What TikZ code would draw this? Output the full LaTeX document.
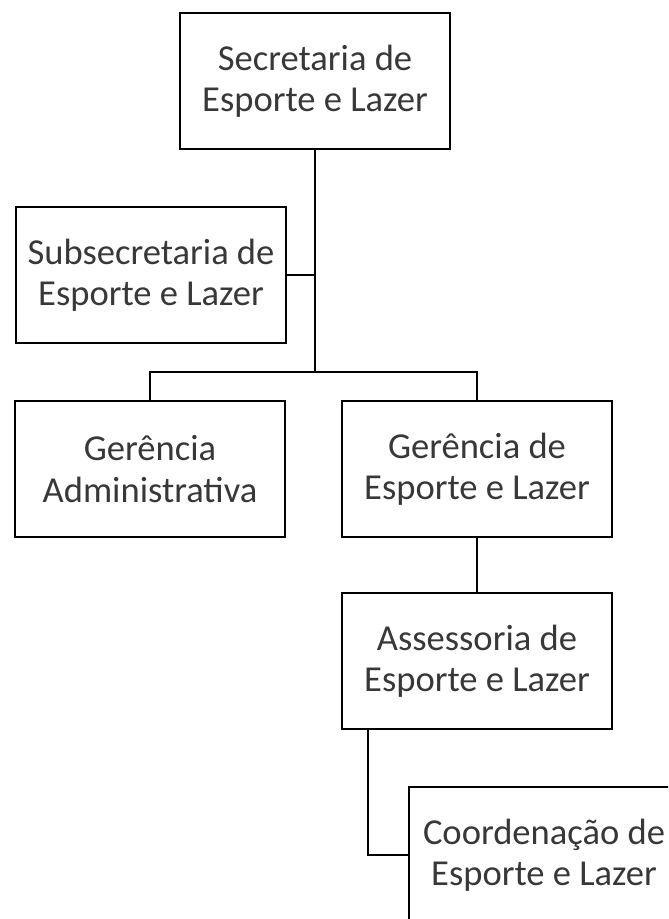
\documentclass[tikz,border=0pt]{standalone}
\usepackage{fontspec}
\setmainfont{Carlito}
\usetikzlibrary{positioning}

\tikzset{
  orgbox/.style={draw, line width=1.2pt, minimum width=6.75cm, minimum height=3.4cm,
    align=center, inner sep=0pt, text=black!78, font=\fontsize{26}{29.5}\selectfont},
  link/.style={line width=1.1pt}
}

\begin{document}
\begin{tikzpicture}[scale=1]
		\useasboundingbox (0,0) rectangle (16.7,-22.975);
		\clip (0,0) rectangle (16.7,-22.975);
		
		% boxes
		\node[orgbox] (sec) at (7.875,-2.025) {Secretaria de\\Esporte e Lazer};
		\node[orgbox] (sub) at (3.775,-6.875) {Subsecretaria de\\Esporte e Lazer};
		\node[orgbox] (adm) at (3.75,-11.725) {Gerência\\Administrativa};
		\node[orgbox] (ger) at (11.925,-11.725) {Gerência de\\Esporte e Lazer};
		\node[orgbox] (ass) at (11.925,-16.525) {Assessoria de\\Esporte e Lazer};
		\node[orgbox] (coo) at (13.6,-21.375) {Coordenação de\\Esporte e Lazer};
		
		\coordinate (bar) at (0,-9.3);
		\coordinate (tap) at (9.2,-16.525);
		
		% connectors
		\draw[link] (sec.south) -- (sec.south |- bar);
		\draw[link] (sub.east) -- (sub.east -| sec.south);
		\draw[link] (adm.north) -- (adm.north |- bar) -| (ger.north);
		\draw[link] (ger.south) -- (ass.north);
		\draw[link] (tap |- ass.south) |- (coo.west);
	\end{tikzpicture}
\end{document}
